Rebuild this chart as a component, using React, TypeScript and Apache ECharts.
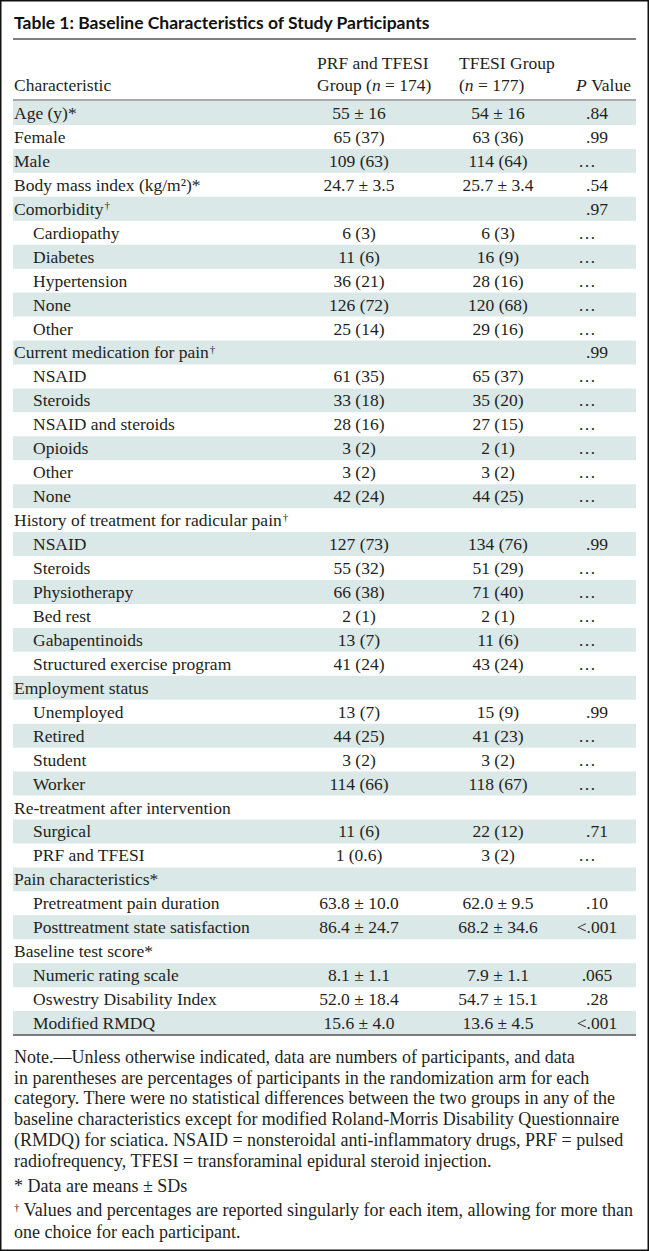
import React, { useEffect, useRef } from "react";
import * as echarts from "echarts";

const titleText = "Table 1: Baseline Characteristics of Study Participants";

const rowLabels = [
  "Age (y)*", "Female", "Male", "Body mass index (kg/m²)*", "Comorbidity†",
  "Cardiopathy", "Diabetes", "Hypertension", "None", "Other",
  "Current medication for pain†", "NSAID", "Steroids", "NSAID and steroids", "Opioids", "Other", "None",
  "History of treatment for radicular pain†", "NSAID", "Steroids", "Physiotherapy", "Bed rest", "Gabapentinoids", "Structured exercise program",
  "Employment status", "Unemployed", "Retired", "Student", "Worker",
  "Re-treatment after intervention", "Surgical", "PRF and TFESI",
  "Pain characteristics*", "Pretreatment pain duration", "Posttreatment state satisfaction",
  "Baseline test score*", "Numeric rating scale", "Oswestry Disability Index", "Modified RMDQ",
];

const rowLevels = [
  0, 0, 0, 0, 0,
  1, 1, 1, 1, 1,
  0, 1, 1, 1, 1, 1, 1,
  0, 1, 1, 1, 1, 1, 1,
  0, 1, 1, 1, 1,
  0, 1, 1,
  0, 1, 1,
  0, 1, 1, 1,
];

const prfGroup = [
  "55 ± 16", "65 (37)", "109 (63)", "24.7 ± 3.5", "",
  "6 (3)", "11 (6)", "36 (21)", "126 (72)", "25 (14)",
  "", "61 (35)", "33 (18)", "28 (16)", "3 (2)", "3 (2)", "42 (24)",
  "", "127 (73)", "55 (32)", "66 (38)", "2 (1)", "13 (7)", "41 (24)",
  "", "13 (7)", "44 (25)", "3 (2)", "114 (66)",
  "", "11 (6)", "1 (0.6)",
  "", "63.8 ± 10.0", "86.4 ± 24.7",
  "", "8.1 ± 1.1", "52.0 ± 18.4", "15.6 ± 4.0",
];

const tfesiGroup = [
  "54 ± 16", "63 (36)", "114 (64)", "25.7 ± 3.4", "",
  "6 (3)", "16 (9)", "28 (16)", "120 (68)", "29 (16)",
  "", "65 (37)", "35 (20)", "27 (15)", "2 (1)", "3 (2)", "44 (25)",
  "", "134 (76)", "51 (29)", "71 (40)", "2 (1)", "11 (6)", "43 (24)",
  "", "15 (9)", "41 (23)", "3 (2)", "118 (67)",
  "", "22 (12)", "3 (2)",
  "", "62.0 ± 9.5", "68.2 ± 34.6",
  "", "7.9 ± 1.1", "54.7 ± 15.1", "13.6 ± 4.5",
];

const pValues = [
  ".84", ".99", "…", ".54", ".97",
  "…", "…", "…", "…", "…",
  ".99", "…", "…", "…", "…", "…", "…",
  "", ".99", "…", "…", "…", "…", "…",
  "", ".99", "…", "…", "…",
  "", ".71", "…",
  "", ".10", "<.001",
  "", ".065", ".28", "<.001",
];

const noteLines = [
  "Note.—Unless otherwise indicated, data are numbers of participants, and data",
  "in parentheses are percentages of participants in the randomization arm for each",
  "category. There were no statistical differences between the two groups in any of the",
  "baseline characteristics except for modified Roland-Morris Disability Questionnaire",
  "(RMDQ) for sciatica. NSAID = nonsteroidal anti-inflammatory drugs, PRF = pulsed",
  "radiofrequency, TFESI = transforaminal epidural steroid injection.",
];
const footnoteStar = "Data are means ± SDs";
const footnoteDaggerLines = [
  "Values and percentages are reported singularly for each item, allowing for more than",
  "one choice for each participant.",
];

const SERIF = "'Liberation Serif', 'Times New Roman', serif";
const SANS = "Lato, 'Open Sans', sans-serif";
const INK = "#231f20";
const SHADE = "#dbe8e8";
const FS = 17.5;
const NOTE_FS = 18;

function txt(x: number, y: number, text: string, align: string = "left", extra: any = {}) {
  return {
    type: "text",
    x,
    y,
    silent: true,
    style: {
      text,
      fontFamily: SERIF,
      fontSize: FS,
      fill: INK,
      align,
      textAlign: align,
      verticalAlign: "middle",
      textVerticalAlign: "middle",
      ...extra,
    },
  };
}

function richLabel(x: number, y: number, label: string, align: string = "left") {
  const base = { fontFamily: SERIF, fontSize: FS, fill: INK };
  if (label.endsWith("†")) {
    const main = label.slice(0, -1);
    return txt(x, y, `{a|${main}}{s|†}`, align, {
      rich: {
        a: { ...base },
        s: { fontFamily: SERIF, fontSize: 11, fill: INK, verticalAlign: "top", padding: [0, 0, 0, 1] },
      },
    });
  }
  return txt(x, y, label, align);
}

export default function App() {
  const ref = useRef<HTMLDivElement>(null);

  useEffect(() => {
    if (!ref.current) return;
    const W = 649;
    const H = 1251;
    const chart = echarts.init(ref.current, null, { renderer: "svg", width: W, height: H });

    const left = 13;
    const right = 636;
    const rowTop = 101;
    const rowH = 23.95;
    const xLabel0 = 14;
    const xLabel1 = 33;
    const xCol1 = 359;
    const xCol2 = 498;
    const xP = 597;
    const xEllipsis = 587;

    const els: any[] = [];

    // outer frame
    els.push({
      type: "rect",
      silent: true,
      shape: { x: 0.75, y: 0.75, width: W - 1.5, height: H - 1.5 },
      style: { fill: "#fff", stroke: "#111", lineWidth: 1.5 },
    });

    // title
    els.push({
      type: "text",
      x: 14,
      y: 22,
      silent: true,
      style: {
        text: titleText,
        fontFamily: SANS,
        fontWeight: "bold",
        fontSize: 17.5,
        fill: "#111",
        align: "left",
        textAlign: "left",
        verticalAlign: "middle",
        textVerticalAlign: "middle",
      },
    });
    els.push({
      type: "line",
      silent: true,
      shape: { x1: left, y1: 39, x2: right, y2: 39 },
      style: { stroke: "#555", lineWidth: 1.6 },
    });

    // header
    const italic = { fontFamily: SERIF, fontSize: FS, fill: INK, fontStyle: "italic" };
    const plain = { fontFamily: SERIF, fontSize: FS, fill: INK };
    els.push(txt(xLabel0, 85, "Characteristic"));
    els.push(txt(317, 63, "PRF and TFESI"));
    els.push(txt(317, 85, "{a|Group (}{i|n}{a| = 174)}", "left", { rich: { a: plain, i: italic } }));
    els.push(txt(459, 63, "TFESI Group"));
    els.push(txt(459, 85, "{a|(}{i|n}{a| = 177)}", "left", { rich: { a: plain, i: italic } }));
    els.push(txt(631, 85, "{i|P}{a| Value}", "right", { rich: { a: plain, i: italic } }));
    els.push({
      type: "line",
      silent: true,
      shape: { x1: left, y1: 100, x2: right, y2: 100 },
      style: { stroke: "#555", lineWidth: 1.2 },
    });

    // rows
    rowLabels.forEach((label, i) => {
      const y0 = rowTop + i * rowH;
      const yc = y0 + rowH / 2;
      if (i % 2 === 0) {
        els.push({
          type: "rect",
          silent: true,
          shape: { x: left, y: y0, width: right - left, height: rowH },
          style: { fill: SHADE },
        });
      }
      els.push(richLabel(rowLevels[i] ? xLabel1 : xLabel0, yc, label));
      if (prfGroup[i]) els.push(txt(xCol1, yc, prfGroup[i], "center"));
      if (tfesiGroup[i]) els.push(txt(xCol2, yc, tfesiGroup[i], "center"));
      if (pValues[i]) {
        const isEll = pValues[i] === "…";
        els.push(txt(isEll ? xEllipsis : xP, yc, pValues[i], "center"));
      }
    });

    const tableBottom = rowTop + rowLabels.length * rowH;
    els.push({
      type: "line",
      silent: true,
      shape: { x1: left, y1: tableBottom, x2: right, y2: tableBottom },
      style: { stroke: "#555", lineWidth: 1.6 },
    });

    // notes
    const nPlain = { fontFamily: SERIF, fontSize: NOTE_FS, fill: INK };
    const noteTop = tableBottom + 22;
    const noteLH = 20.7;
    noteLines.forEach((line, i) => {
      els.push(txt(14, noteTop + i * noteLH, line, "left", { fontSize: NOTE_FS }));
    });
    const starY = noteTop + noteLines.length * noteLH + 5;
    els.push(txt(14, starY, `{s|*}{a| ${footnoteStar}}`, "left", {
      fontSize: NOTE_FS,
      rich: { a: nPlain, s: { fontFamily: SERIF, fontSize: NOTE_FS, fill: INK } },
    }));
    const dagY = starY + 24;
    els.push(txt(14, dagY, `{s|†}{a| ${footnoteDaggerLines[0]}}`, "left", {
      fontSize: NOTE_FS,
      rich: { a: nPlain, s: { fontFamily: SERIF, fontSize: 11, fill: INK, verticalAlign: "top" } },
    }));
    els.push(txt(14, dagY + 22, footnoteDaggerLines[1], "left", { fontSize: NOTE_FS }));

    chart.setOption({
      animation: false,
      graphic: { elements: els },
    });

    return () => chart.dispose();
  }, []);

  return (
    <div
      ref={ref}
      style={{ position: "fixed", left: 0, top: 0, width: 649, height: 1251, background: "#fff" }}
    />
  );
}
